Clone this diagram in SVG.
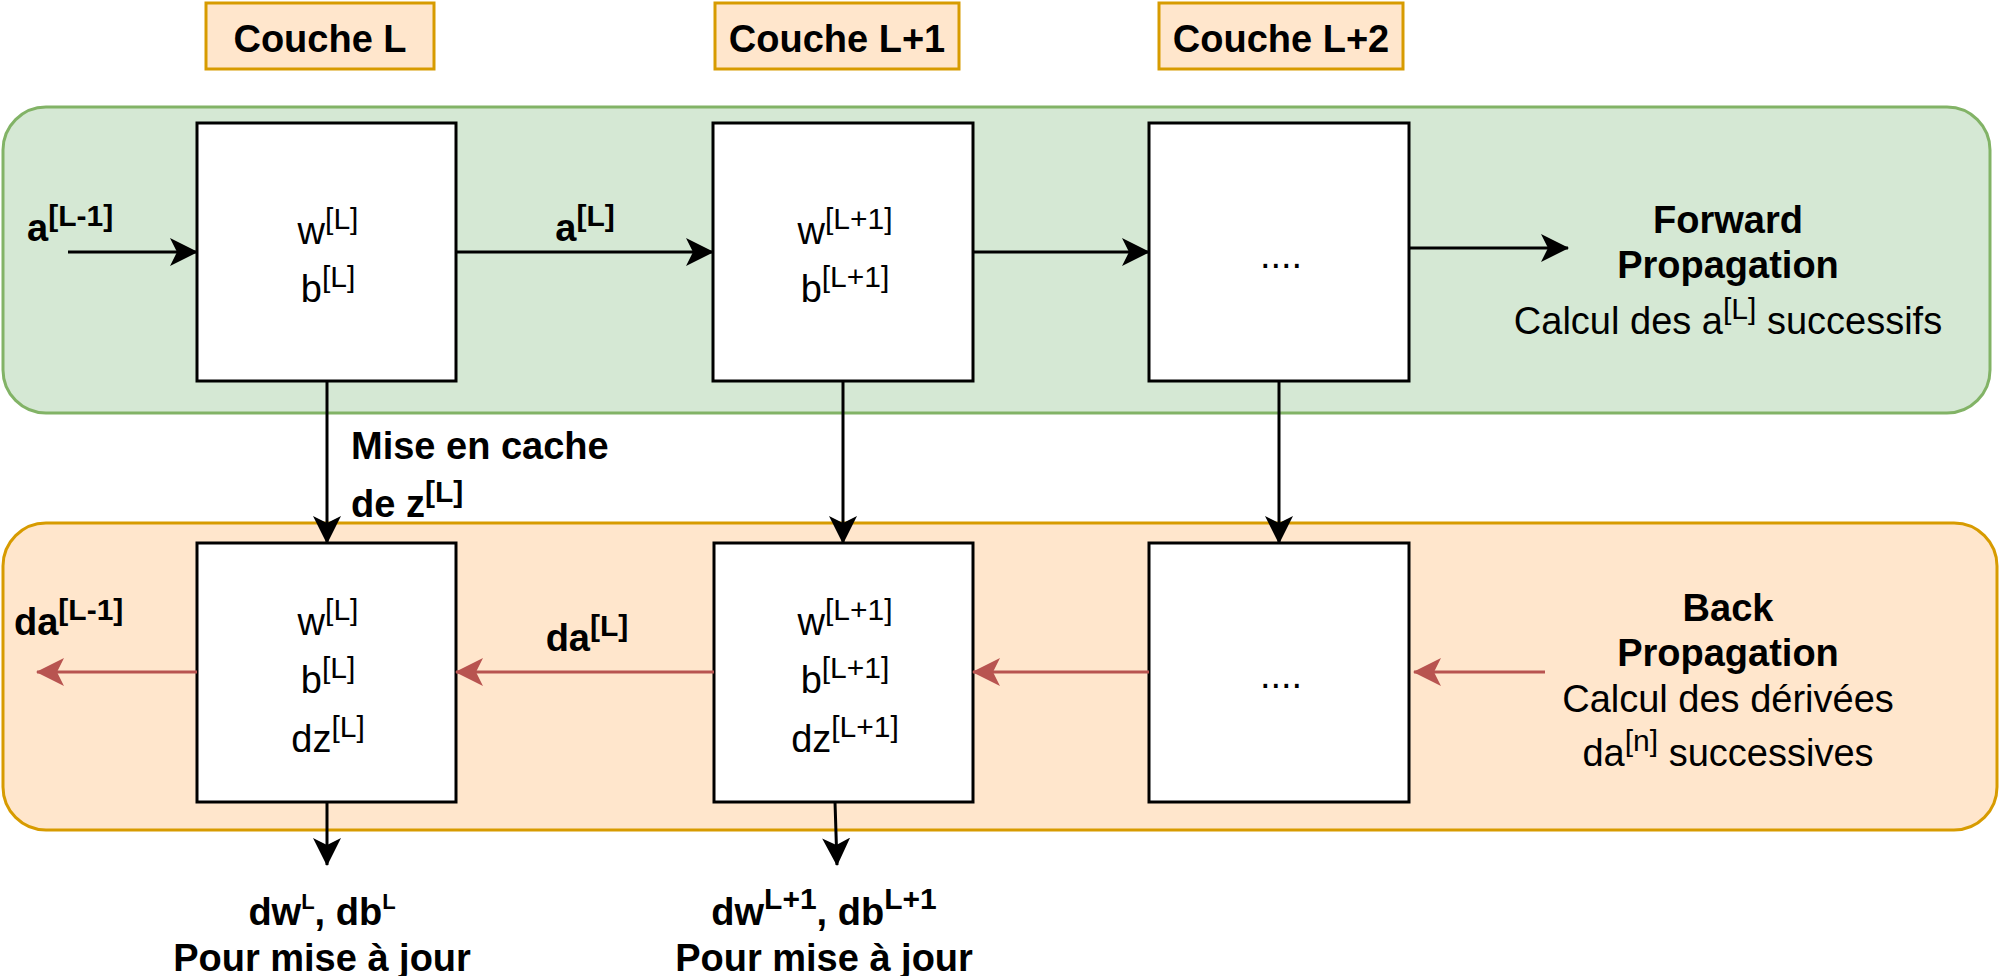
<svg xmlns="http://www.w3.org/2000/svg" width="2003" height="976" viewBox="0 0 2003 976">
<defs>
<style>
.pg{fill:#d5e8d4;stroke:#82b366;stroke-width:3}
.po{fill:#ffe6cc;stroke:#d79b00;stroke-width:3}
.layer{fill:#ffe6cc;stroke:#d79b00;stroke-width:3}
.box{fill:#ffffff;stroke:#000000;stroke-width:3}
.t{font-family:"Liberation Sans",Arial,Helvetica,sans-serif;font-size:38px;fill:#000000}
.b{font-weight:bold}
.m{text-anchor:middle}
.s{font-size:30px}
.ss{font-size:22px}
.e{fill:none;stroke:#000000;stroke-width:3}
.r{fill:none;stroke:#b85450;stroke-width:3}
</style>
<marker id="ab" markerUnits="userSpaceOnUse" markerWidth="28" markerHeight="28" viewBox="0 0 28 28" refX="27" refY="14" orient="auto"><path d="M0,0 L28,14 L0,28 L7,14 Z" fill="#000000"/></marker>
<marker id="ar" markerUnits="userSpaceOnUse" markerWidth="28" markerHeight="28" viewBox="0 0 28 28" refX="27" refY="14" orient="auto"><path d="M0,0 L28,14 L0,28 L7,14 Z" fill="#b85450"/></marker>
</defs>

<g id="panel-forward"><rect class="pg" x="3" y="107" width="1987" height="306" rx="43" ry="43"/></g>
<g id="panel-back"><rect class="po" x="3" y="523" width="1994" height="307" rx="43" ry="43"/></g>

<g id="couche-l"><rect class="layer" x="206" y="3" width="228" height="66"/><text class="t b m" x="320" y="52">Couche L</text></g>
<g id="couche-l1"><rect class="layer" x="715" y="3" width="244" height="66"/><text class="t b m" x="837" y="52">Couche L+1</text></g>
<g id="couche-l2"><rect class="layer" x="1159" y="3" width="244" height="66"/><text class="t b m" x="1281" y="52">Couche L+2</text></g>

<g id="fwd-l"><rect class="box" x="197" y="123" width="259" height="258"/>
<text class="t m" x="328" y="244">w<tspan class="s" dy="-15">[L]</tspan></text>
<text class="t m" x="328" y="302">b<tspan class="s" dy="-15">[L]</tspan></text></g>
<g id="fwd-l1"><rect class="box" x="713" y="123" width="260" height="258"/>
<text class="t m" x="845" y="244">w<tspan class="s" dy="-15">[L+1]</tspan></text>
<text class="t m" x="845" y="302">b<tspan class="s" dy="-15">[L+1]</tspan></text></g>
<g id="fwd-l2"><rect class="box" x="1149" y="123" width="260" height="258"/>
<text class="t m" x="1281" y="268">....</text></g>

<g id="back-l"><rect class="box" x="197" y="543" width="259" height="259"/>
<text class="t m" x="328" y="635">w<tspan class="s" dy="-15">[L]</tspan></text>
<text class="t m" x="328" y="693">b<tspan class="s" dy="-15">[L]</tspan></text>
<text class="t m" x="328" y="752">dz<tspan class="s" dy="-15">[L]</tspan></text></g>
<g id="back-l1"><rect class="box" x="714" y="543" width="259" height="259"/>
<text class="t m" x="845" y="635">w<tspan class="s" dy="-15">[L+1]</tspan></text>
<text class="t m" x="845" y="693">b<tspan class="s" dy="-15">[L+1]</tspan></text>
<text class="t m" x="845" y="752">dz<tspan class="s" dy="-15">[L+1]</tspan></text></g>
<g id="back-l2"><rect class="box" x="1149" y="543" width="260" height="259"/>
<text class="t m" x="1281" y="688">....</text></g>

<g id="connectors">
<line class="e" x1="68" y1="252" x2="197" y2="252" marker-end="url(#ab)"/>
<line class="e" x1="456" y1="252" x2="713" y2="252" marker-end="url(#ab)"/>
<line class="e" x1="973" y1="252" x2="1149" y2="252" marker-end="url(#ab)"/>
<line class="e" x1="1409" y1="248" x2="1568" y2="248" marker-end="url(#ab)"/>
<line class="e" x1="327" y1="381" x2="327" y2="543" marker-end="url(#ab)"/>
<line class="e" x1="843" y1="381" x2="843" y2="543" marker-end="url(#ab)"/>
<line class="e" x1="1279" y1="381" x2="1279" y2="543" marker-end="url(#ab)"/>
<line class="e" x1="327" y1="802" x2="327" y2="865" marker-end="url(#ab)"/>
<line class="e" x1="835" y1="802" x2="837" y2="865" marker-end="url(#ab)"/>
<line class="r" x1="1545" y1="672" x2="1414" y2="672" marker-end="url(#ar)"/>
<line class="r" x1="1149" y1="672" x2="973" y2="672" marker-end="url(#ar)"/>
<line class="r" x1="714" y1="672" x2="456" y2="672" marker-end="url(#ar)"/>
<line class="r" x1="197" y1="672" x2="37" y2="672" marker-end="url(#ar)"/>
</g>

<g id="labels">
<text class="t b" x="27" y="241">a<tspan class="s" dy="-15">[L-1]</tspan></text>
<text class="t b m" x="585" y="241">a<tspan class="s" dy="-15">[L]</tspan></text>
<text class="t b" x="351" y="459">Mise en cache</text>
<text class="t b" x="351" y="517">de z<tspan class="s" dy="-15">[L]</tspan></text>
<text class="t b" x="14" y="635">da<tspan class="s" dy="-15">[L-1]</tspan></text>
<text class="t b m" x="587" y="651">da<tspan class="s" dy="-15">[L]</tspan></text>
<text class="t b m" x="1728" y="233">Forward</text>
<text class="t b m" x="1728" y="278">Propagation</text>
<text class="t m" x="1728" y="334">Calcul des a<tspan class="s" dy="-15">[L]</tspan><tspan dy="15"> successifs</tspan></text>
<text class="t b m" x="1728" y="621">Back</text>
<text class="t b m" x="1728" y="666">Propagation</text>
<text class="t m" x="1728" y="712">Calcul des dérivées</text>
<text class="t m" x="1728" y="766">da<tspan class="s" dy="-15">[n]</tspan><tspan dy="15"> successives</tspan></text>
<text class="t b m" x="322" y="925">dw<tspan class="ss" dy="-16">L</tspan><tspan dy="16">, db</tspan><tspan class="ss" dy="-16">L</tspan></text>
<text class="t b m" x="322" y="971">Pour mise à jour</text>
<text class="t b m" x="824" y="925">dw<tspan class="s" dy="-16">L+1</tspan><tspan dy="16">, db</tspan><tspan class="s" dy="-16">L+1</tspan></text>
<text class="t b m" x="824" y="971">Pour mise à jour</text>
</g>
</svg>
